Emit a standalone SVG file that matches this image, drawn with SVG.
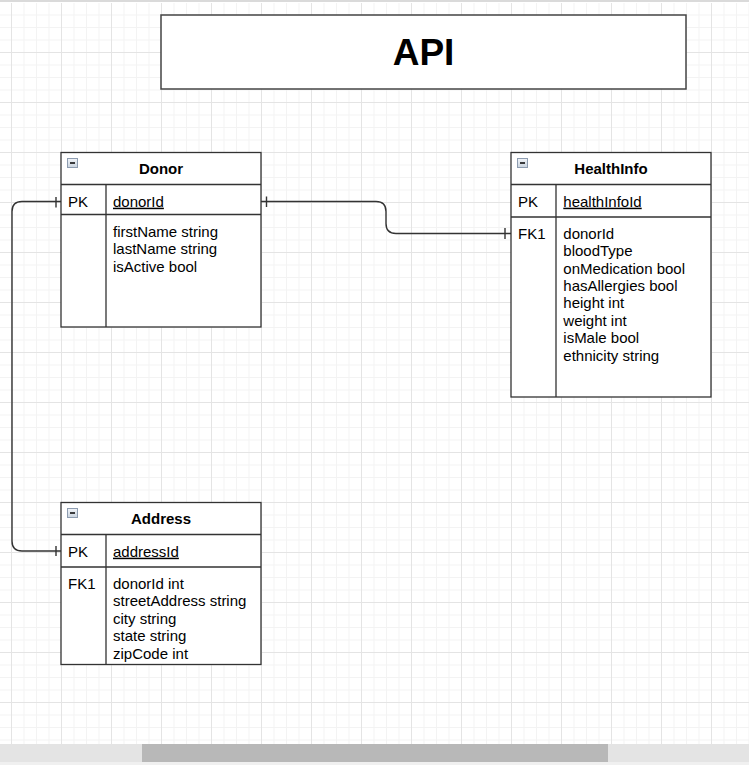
<svg xmlns="http://www.w3.org/2000/svg" width="749" height="765" viewBox="0 0 749 765">
<style>
.box{fill:#fff;stroke:#333;stroke-width:1.3}
.ln{fill:none;stroke:#333;stroke-width:1.3}
.conn{fill:none;stroke:#333;stroke-width:1.4}
.hdr{font-family:"Liberation Sans",Arial,sans-serif;font-size:15px;font-weight:bold;fill:#000;text-anchor:middle}
.t{font-family:"Liberation Sans",Arial,sans-serif;font-size:15px;fill:#000}
.u{text-decoration:underline}
.ttl{font-family:"Liberation Sans",Arial,sans-serif;font-size:37px;font-weight:bold;fill:#000;text-anchor:middle}
.icon{fill:url(#ig);stroke:#8d9cb0;stroke-width:1}
.dash{stroke:#111;stroke-width:1.6}
</style>
<defs>
<linearGradient id="ig" x1="0" y1="0" x2="0" y2="1">
<stop offset="0" stop-color="#f2f5f9"/>
<stop offset="1" stop-color="#c9d3de"/>
</linearGradient>
<pattern id="grid" patternUnits="userSpaceOnUse" x="11" y="2" width="50" height="50">
<path d="M13 0V50M25.5 0V50M38 0V50M0 13H50M0 25.5H50M0 38H50" fill="none" stroke="#f3f3f3" stroke-width="1"/>
<path d="M0.5 0V50M0 0.5H50" fill="none" stroke="#e4e4e4" stroke-width="1"/>
</pattern>
</defs>
<rect x="0" y="0" width="749" height="765" fill="#fff"/>
<rect x="0" y="0" width="749" height="2" fill="#dadada"/>
<rect x="0" y="3" width="749" height="741" fill="url(#grid)"/>
<g id="scrollbar">
<rect x="0" y="744" width="749" height="18" fill="#e4e4e4"/>
<rect x="142" y="744" width="466" height="18" fill="#b8b8b8"/>
<rect x="0" y="762" width="749" height="3" fill="#f0f0f0"/>
</g>
<g id="title">
<rect x="161" y="15" width="525" height="74" fill="#fff" stroke="#444" stroke-width="1.5"/>
<text class="ttl" x="423.5" y="65">API</text>
</g>
<g id="connectors">
<path class="conn" d="M261 201.5H376Q386 201.5 386 211.5V223.5Q386 233.5 396 233.5H511"/>
<path class="conn" d="M266.5 196.5V207M505 228V239"/>
<path class="conn" d="M61 201.5H22Q12 201.5 12 211.5V541Q12 551 22 551H61"/>
<path class="conn" d="M56 197V207.5M56 546V556"/>
</g>
<g id="donor">
<rect class="box" x="61" y="152.5" width="200" height="174.5"/>
<path class="ln" d="M61 184.5H261M61 214.5H261M106 184.5V327"/>
<rect class="icon" x="67.5" y="158.5" width="10" height="9"/>
<path class="dash" d="M70 163H75"/>
<text class="hdr" x="161" y="173.5">Donor</text>
<text class="t" x="68" y="206.7">PK</text>
<text class="t u" x="113" y="206.7">donorId</text>
<text class="t" x="113" y="236.7">firstName string</text>
<text class="t" x="113" y="254.1">lastName string</text>
<text class="t" x="113" y="271.5">isActive bool</text>
</g>
<g id="healthinfo">
<rect class="box" x="511" y="152.5" width="200" height="244.5"/>
<path class="ln" d="M511 184.5H711M511 217H711M556 184.5V397"/>
<rect class="icon" x="517.5" y="158.5" width="10" height="9"/>
<path class="dash" d="M520 163H525"/>
<text class="hdr" x="611" y="173.5">HealthInfo</text>
<text class="t" x="518" y="206.7">PK</text>
<text class="t u" x="563.3" y="206.7">healthInfoId</text>
<text class="t" x="518" y="239">FK1</text>
<text class="t" x="563.3" y="238.8">donorId</text>
<text class="t" x="563.3" y="256.2">bloodType</text>
<text class="t" x="563.3" y="273.6">onMedication bool</text>
<text class="t" x="563.3" y="291">hasAllergies bool</text>
<text class="t" x="563.3" y="308.4">height int</text>
<text class="t" x="563.3" y="325.8">weight int</text>
<text class="t" x="563.3" y="343.2">isMale bool</text>
<text class="t" x="563.3" y="360.6">ethnicity string</text>
</g>
<g id="address">
<rect class="box" x="61" y="502.5" width="200" height="162"/>
<path class="ln" d="M61 534.5H261M61 567H261M106 534.5V664.5"/>
<rect class="icon" x="67.5" y="508.5" width="10" height="9"/>
<path class="dash" d="M70 513H75"/>
<text class="hdr" x="161" y="523.5">Address</text>
<text class="t" x="68" y="556.7">PK</text>
<text class="t u" x="113" y="556.7">addressId</text>
<text class="t" x="68" y="589">FK1</text>
<text class="t" x="113" y="589">donorId int</text>
<text class="t" x="113" y="606.4">streetAddress string</text>
<text class="t" x="113" y="623.8">city string</text>
<text class="t" x="113" y="641.2">state string</text>
<text class="t" x="113" y="658.6">zipCode int</text>
</g>
</svg>
